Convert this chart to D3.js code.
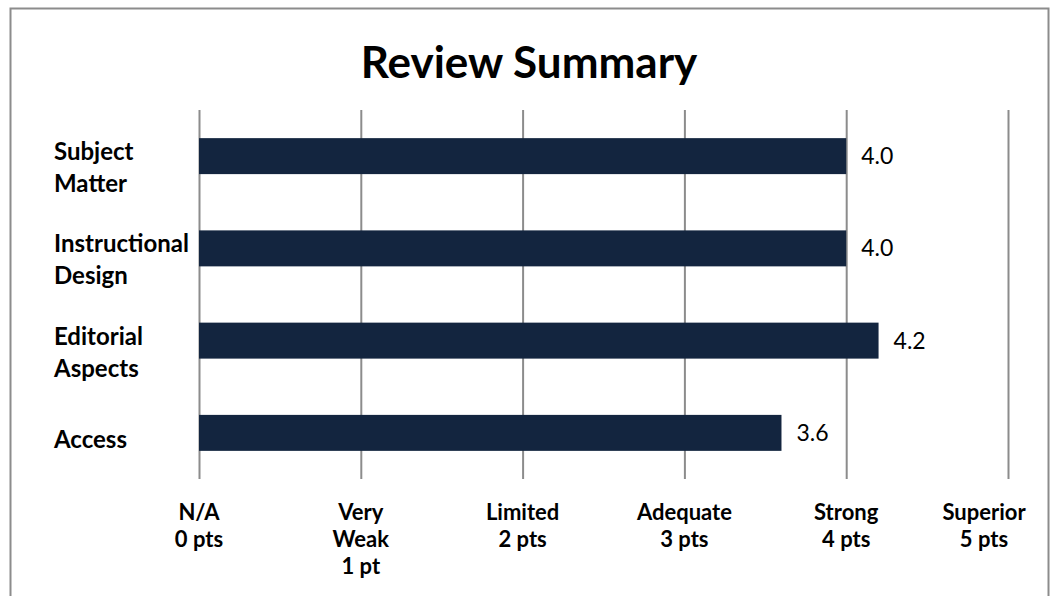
<!DOCTYPE html>
<html>
<head>
<meta charset="utf-8">
<script src="https://cdn.jsdelivr.net/npm/d3@7"></script>
<style>
  body { margin: 0; background: #fff; }
  text { font-family: Lato, "Open Sans", sans-serif; fill: #000; }
</style>
</head>
<body>
<svg></svg>
<script>
// data
const categories = ["Subject Matter", "Instructional Design", "Editorial Aspects", "Access"]
const catLines = [["Subject", "Matter"], ["Instructional", "Design"], ["Editorial", "Aspects"], ["Access"]]
const scores = [4.0, 4.0, 4.2, 3.6]
const tickValues = [0, 1, 2, 3, 4, 5]
const tickLabels = [["N/A", "0 pts"], ["Very", "Weak", "1 pt"], ["Limited", "2 pts"], ["Adequate", "3 pts"], ["Strong", "4 pts"], ["Superior", "5 pts"]]

const width = 1052
const height = 596
const margin = {left: 199, right: 43, top: 110, bottom: 117}

let svg = d3.select("svg")
    .attr("width", width)
    .attr("height", height)

// chart border (runs past bottom edge)
svg.append("rect")
    .attr("x", 10.5)
    .attr("y", 8.5)
    .attr("width", 1038)
    .attr("height", 620)
    .attr("fill", "none")
    .attr("stroke", "#8c8c8c")
    .attr("stroke-width", 2)

svg.append("text")
    .attr("x", 529)
    .attr("y", 78)
    .attr("text-anchor", "middle")
    .style("font-size", "44px")
    .style("font-weight", "bold")
    .text("Review Summary")

let x = d3.scaleLinear().domain([0, 5]).range([margin.left, width - margin.right - 1])
let y = d3.scaleBand().domain(categories).range([margin.top, height - margin.bottom]).paddingInner(0.61).paddingOuter(0.305)

// vertical gridlines
svg.append("g")
    .attr("transform", "translate(0," + (height - margin.bottom) + ")")
    .call(d3.axisBottom(x).tickValues(tickValues).tickSize(-(height - margin.bottom - margin.top)).tickFormat(""))
    .call(g => g.select(".domain").remove())
    .call(g => g.selectAll(".tick line").attr("stroke", "#8c8c8c").attr("stroke-width", 2))

// bars
svg.selectAll("rect.bar")
    .data(scores)
    .enter()
    .append("rect")
    .attr("class", "bar")
    .attr("x", x(0))
    .attr("y", (d, i) => y(categories[i]))
    .attr("width", d => x(d) - x(0))
    .attr("height", y.bandwidth())
    .attr("fill", "#13253f")

// value labels
svg.selectAll("text.val")
    .data(scores)
    .enter()
    .append("text")
    .attr("class", "val")
    .attr("x", d => x(d) + 15)
    .attr("y", (d, i) => y(categories[i]) + y.bandwidth() / 2 + 8)
    .style("font-size", "23px")
    .text(d => d.toFixed(1))

// category labels
catLines.forEach(function(lines, i) {
    let cy = y(categories[i]) + y.bandwidth() / 2
    let t = svg.append("text")
        .attr("x", 54)
        .attr("y", lines.length > 1 ? cy + 4 : cy + 15)
        .style("font-size", "24px")
        .style("font-weight", "bold")
    lines.forEach(function(s, j) {
        t.append("tspan").attr("x", 54).attr("dy", j == 0 ? 0 : 32).text(s)
    })
})

// x tick labels (last one gets pushed in so it stays inside the border)
const rightLimit = 1026
tickLabels.forEach(function(lines, i) {
    let t = svg.append("text")
        .attr("y", 520)
        .attr("text-anchor", "middle")
        .style("font-size", "22px")
        .style("font-weight", "bold")
    lines.forEach(function(s, j) {
        t.append("tspan").attr("x", x(tickValues[i])).attr("dy", j == 0 ? 0 : 27).text(s)
    })
    let w = t.node().getBBox().width
    let cx = Math.min(x(tickValues[i]), rightLimit - w / 2)
    t.selectAll("tspan").attr("x", cx)
})
</script>
</body>
</html>
